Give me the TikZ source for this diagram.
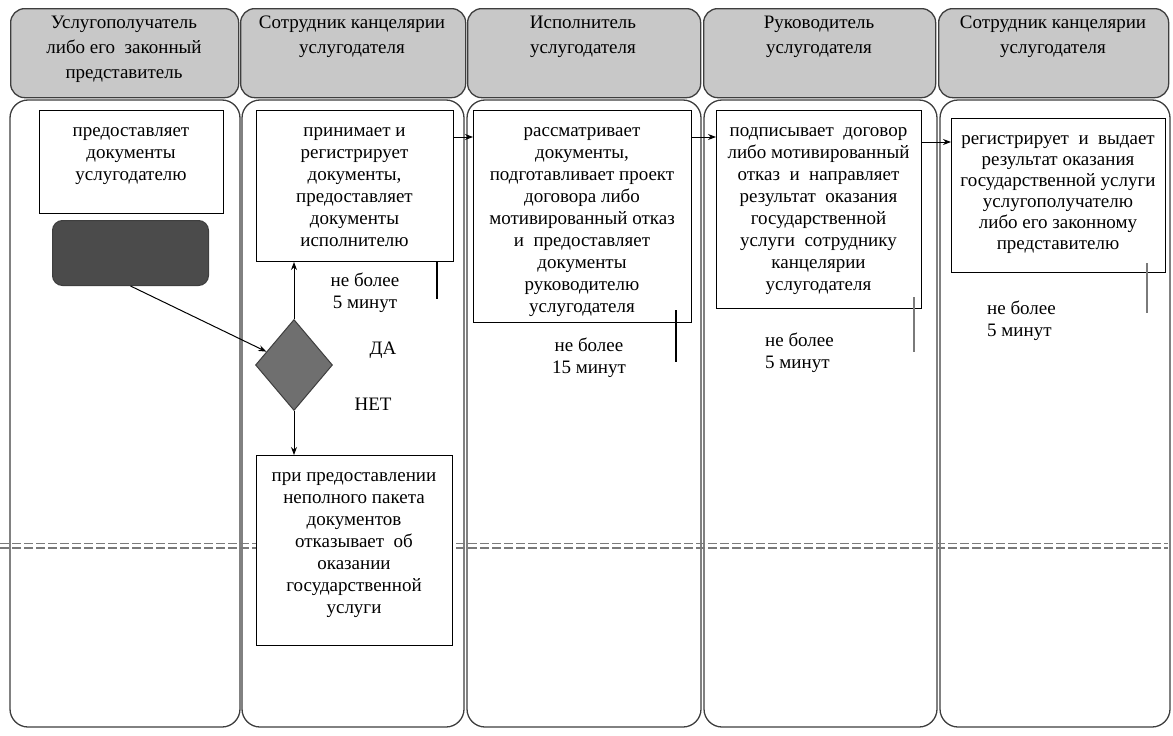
\documentclass[tikz,border=0pt]{standalone}
\usepackage{fontspec}
\setmainfont{Liberation Serif}
\usetikzlibrary{shapes.geometric,arrows.meta}
\definecolor{laneC}{HTML}{3E3E3E}
\definecolor{headF}{HTML}{C8C8C8}
\definecolor{darkF}{HTML}{4B4B4B}
\definecolor{diaF}{HTML}{6F6F6F}
\definecolor{dashC}{HTML}{7A7A7A}
\definecolor{tickC}{HTML}{7A7A7A}
\begin{document}
\begin{tikzpicture}[x=1pt,y=-1pt,
  lane/.style={draw=laneC, line width=1.3pt, rounded corners=18pt},
  head/.style={draw=laneC, fill=headF, line width=1.3pt, rounded corners=14pt, anchor=north west, inner sep=0pt},
  htxt/.style={anchor=north, inner sep=0pt, align=center, font=\fontsize{19}{25}\selectfont, execute at begin node=\strut},
  stepbox/.style={draw=black, fill=white, line width=1pt, anchor=north west, inner sep=0pt},
  txt/.style={anchor=north, inner sep=0pt, align=center, font=\fontsize{19}{22}\selectfont, execute at begin node=\strut},
  ltxt/.style={anchor=north west, inner sep=0pt, align=left, font=\fontsize{19}{22}\selectfont, execute at begin node=\strut},
  arr/.style={draw=black, line width=1pt, -{Stealth[length=8pt,width=6pt]}},
  tick/.style={draw=black, line width=1.1pt},
  gtick/.style={draw=tickC, line width=2pt},
  dline/.style={draw=dashC, line width=1.6pt, dash pattern=on 9pt off 3pt}
]
\useasboundingbox (0,0) rectangle (1173,736);

% lanes
\draw[lane] (10,100) rectangle (240,727);
\draw[lane] (242,100) rectangle (464,727);
\draw[lane] (467,100) rectangle (701,727);
\draw[lane] (704,100) rectangle (937,727);
\draw[lane] (940,100) rectangle (1170,727);

% headers
\node[head, minimum width=228pt, minimum height=89pt] (h1) at (10,8) {};
\node[head, minimum width=225pt, minimum height=89pt] (h2) at (240,8) {};
\node[head, minimum width=233pt, minimum height=89pt] (h3) at (467,8) {};
\node[head, minimum width=232pt, minimum height=89pt] (h4) at (703,8) {};
\node[head, minimum width=230pt, minimum height=89pt] (h5) at (938,8) {};
\node[htxt] (ht1) at (124,16) {Услугополучатель\\либо его\ \ законный\\представитель};
\node[htxt] (ht2) at (352,16) {Сотрудник канцелярии\\услугодателя};
\node[htxt] (ht3) at (583,16) {Исполнитель\\услугодателя};
\node[htxt] (ht4) at (819,16) {Руководитель\\услугодателя};
\node[htxt] (ht5) at (1053,16) {Сотрудник канцелярии\\услугодателя};

% double dashed separator
\draw[dline] (0,543.5) -- (1168,543.5);
\draw[dline] (0,548) -- (1168,548);

% boxes
\node[stepbox, minimum width=184pt, minimum height=103pt] (b1) at (39,110) {};
\node[txt] at (131,127) {предоставляет\\документы\\услугодателю};

\node[draw=laneC, fill=darkF, line width=1pt, rounded corners=10pt, minimum width=156pt, minimum height=65pt, anchor=north west, inner sep=0pt] (dk) at (52,220) {};

\node[stepbox, minimum width=197pt, minimum height=151pt] (b2) at (256,110) {};
\node[txt] at (354.5,127) {принимает и\\регистрирует\\документы,\\предоставляет\\документы\\исполнителю};

\node[diamond, draw=laneC, fill=diaF, line width=1pt, inner sep=0pt, minimum width=77pt, minimum height=91pt, shape aspect=0.846] (d) at (294,365) {};

\node[stepbox, minimum width=218pt, minimum height=212pt] (b3) at (473,110) {};
\node[txt] at (582,127) {рассматривает\\документы,\\подготавливает проект\\договора либо\\мотивированный отказ\\и\ \ предоставляет\\документы\\руководителю\\услугодателя};

\node[stepbox, minimum width=205pt, minimum height=198pt] (b4) at (716,110) {};
\node[txt] at (818.5,127) {подписывает\ \ договор\\либо мотивированный\\отказ\ \ и\ \ направляет\\результат\ \ оказания\\государственной\\услуги\ \ сотруднику\\канцелярии\\услугодателя};

\node[stepbox, minimum width=214pt, minimum height=154pt] (b5) at (951,118) {};
\node[txt, font=\fontsize{19}{21}\selectfont] at (1058,135) {регистрирует\ \ и\ \ выдает\\результат оказания\\государственной услуги\\услугополучателю\\либо его законному\\представителю};

\node[stepbox, minimum width=196pt, minimum height=190pt] (b6) at (256,455) {};
\node[txt] at (354,472) {при предоставлении\\неполного пакета\\документов\\отказывает\ \ об\\оказании\\государственной\\услуги};

% labels
\node[txt] (t2) at (365,273) {не более\\5 минут};
\node[font=\fontsize{19}{22}\selectfont, inner sep=0pt] (da) at (383,350) {ДА};
\node[font=\fontsize{19}{22}\selectfont, inner sep=0pt] (net) at (373,404) {НЕТ};
\node[txt] (t3) at (589,338) {не более\\15 минут};
\node[ltxt] (t4) at (765,333) {не более\\5 минут};
\node[ltxt] (t5) at (987,301) {не более\\5 минут};

% connectors
\draw[arr] (dk.south) -- (d);
\draw[arr] (d.north) -- (d.north |- b2.south);
\draw[arr] (d.south) -- (d.south |- b6.north);
\draw[arr] ([yshift=-27pt]b2.north east) -- ([yshift=-27pt]b3.north west);
\draw[arr] ([yshift=-27pt]b3.north east) -- ([yshift=-27pt]b4.north west);
\draw[arr] ([yshift=-32pt]b4.north east) -- ([yshift=-24pt]b5.north west);

% timing ticks
\coordinate (k2a) at (437,261); \coordinate (k2b) at (437,299);
\coordinate (k3a) at (676,310); \coordinate (k3b) at (676,362);
\coordinate (k4a) at (914,297); \coordinate (k4b) at (914,352);
\coordinate (k5a) at (1147,263); \coordinate (k5b) at (1147,313);
\draw[tick] (k2a) -- (k2b);
\draw[tick] (k3a) -- (k3b);
\draw[gtick] (k4a) -- (k4b);
\draw[gtick] (k5a) -- (k5b);
\end{tikzpicture}
\end{document}
